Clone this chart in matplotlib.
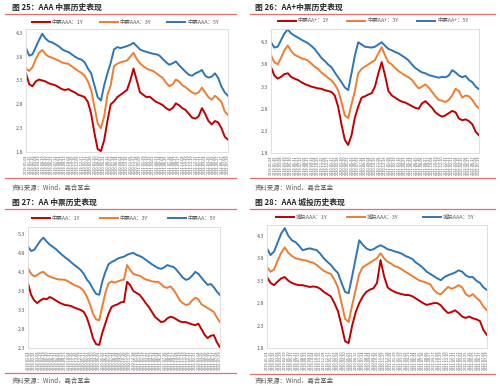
import matplotlib
matplotlib.use("Agg")
import matplotlib.pyplot as plt
from matplotlib.lines import Line2D
import pandas as pd

plt.rcParams['font.family'] = ['Noto Sans CJK SC']

# category axis: one point every three weeks
dates = pd.date_range('2019-01-04', periods=63, freq='21D')
date_labels = [d.strftime('%Y-%m-%d') for d in dates]

# 图25 AAA 中票
aaa_1y = [3.45, 3.22, 3.18, 3.28, 3.32, 3.30, 3.28, 3.24, 3.22, 3.20,
          3.16, 3.12, 3.10, 3.12, 3.08, 3.05, 3.00, 2.98, 2.95, 2.85,
          2.60, 2.20, 1.86, 1.82, 2.05, 2.45, 2.80, 2.86, 2.95, 3.00,
          3.05, 3.10, 3.30, 3.55, 3.30, 3.05, 3.00, 2.95, 2.96, 2.90,
          2.85, 2.82, 2.78, 2.72, 2.68, 2.72, 2.82, 2.78, 2.72, 2.68,
          2.60, 2.52, 2.50, 2.55, 2.72, 2.60, 2.45, 2.38, 2.45, 2.42,
          2.30, 2.12, 2.06]
aaa_3y = [3.55, 3.50, 3.58, 3.75, 3.88, 3.94, 3.85, 3.80, 3.78, 3.75,
          3.72, 3.68, 3.66, 3.65, 3.60, 3.55, 3.50, 3.46, 3.40, 3.28,
          3.10, 2.75, 2.40, 2.30, 2.55, 3.00, 3.20, 3.60, 3.65, 3.68,
          3.70, 3.72, 3.80, 3.88, 3.75, 3.66, 3.60, 3.55, 3.52, 3.50,
          3.45, 3.40, 3.35, 3.25, 3.18, 3.22, 3.32, 3.28, 3.20, 3.16,
          3.10, 3.05, 3.02, 3.05, 3.15, 3.05, 2.95, 2.90, 2.98, 2.92,
          2.85, 2.65, 2.58]
aaa_5y = [3.98, 3.82, 3.85, 4.00, 4.15, 4.28, 4.18, 4.12, 4.10, 4.06,
          4.02, 3.96, 3.92, 3.90, 3.85, 3.80, 3.76, 3.74, 3.68, 3.55,
          3.45, 3.20, 2.95, 2.88, 3.20, 3.45, 3.67, 3.95, 4.00, 3.98,
          4.00, 4.02, 4.05, 4.09, 4.02, 3.95, 3.92, 3.90, 3.88, 3.86,
          3.85, 3.82, 3.75, 3.68, 3.63, 3.66, 3.70, 3.62, 3.55, 3.48,
          3.42, 3.40, 3.45, 3.48, 3.52, 3.40, 3.36, 3.38, 3.45, 3.35,
          3.17, 3.05, 2.98]

# 图26 AA+ 中票
aap_1y = [3.74, 3.55, 3.48, 3.52, 3.58, 3.60, 3.52, 3.48, 3.45, 3.40,
          3.36, 3.33, 3.30, 3.28, 3.26, 3.25, 3.22, 3.20, 3.18, 3.10,
          2.85, 2.45, 2.10, 1.98, 2.20, 2.60, 2.85, 3.05, 3.08, 3.12,
          3.15, 3.30, 3.60, 3.85, 3.55, 3.20, 3.10, 3.05, 3.00, 2.96,
          2.94, 2.90, 2.86, 2.82, 2.80, 2.92, 2.97, 2.90, 2.82, 2.72,
          2.66, 2.62, 2.65, 2.70, 2.75, 2.72, 2.58, 2.54, 2.56, 2.52,
          2.45, 2.28, 2.20]
aap_3y = [4.00, 3.85, 3.80, 3.95, 4.12, 4.23, 4.10, 4.02, 3.98, 3.94,
          3.92, 3.89, 3.82, 3.75, 3.70, 3.62, 3.56, 3.50, 3.44, 3.35,
          3.22, 2.95, 2.65, 2.59, 2.90, 3.20, 3.60, 3.70, 3.75, 3.80,
          3.85, 3.90, 4.05, 4.19, 4.00, 3.85, 3.80, 3.72, 3.65, 3.60,
          3.55, 3.51, 3.45, 3.35, 3.26, 3.30, 3.35, 3.28, 3.18, 3.08,
          3.00, 2.98, 2.95, 3.00, 3.10, 3.25, 3.20, 3.05, 3.10, 3.08,
          3.00, 2.88, 2.81]
aap_5y = [4.30, 4.18, 4.20, 4.35, 4.50, 4.59, 4.50, 4.45, 4.41, 4.36,
          4.32, 4.28, 4.22, 4.15, 4.05, 3.95, 3.88, 3.80, 3.74, 3.62,
          3.51, 3.40, 3.28, 3.22, 3.60, 4.00, 4.30, 4.25, 4.20, 4.19,
          4.18, 4.20, 4.25, 4.30, 4.22, 4.15, 4.12, 4.08, 4.05, 4.00,
          3.95, 3.89, 3.80, 3.72, 3.67, 3.62, 3.60, 3.56, 3.54, 3.52,
          3.50, 3.52, 3.51, 3.55, 3.67, 3.62, 3.55, 3.51, 3.54, 3.45,
          3.40, 3.30, 3.24]

# 图27 AA 中票
aa_1y = [4.00, 3.70, 3.55, 3.48, 3.55, 3.60, 3.58, 3.64, 3.60, 3.55,
         3.50, 3.46, 3.43, 3.42, 3.40, 3.36, 3.33, 3.30, 3.25, 3.10,
         2.85, 2.55, 2.40, 2.38, 2.70, 2.95, 3.20, 3.38, 3.42, 3.45,
         3.50, 3.51, 4.04, 3.95, 3.80, 3.75, 3.70, 3.60, 3.48, 3.38,
         3.25, 3.12, 3.05, 2.98, 3.00, 3.08, 3.12, 3.10, 3.05, 3.00,
         2.98, 2.98, 2.95, 2.92, 2.90, 2.94, 2.80, 2.65, 2.56, 2.62,
         2.64, 2.45, 2.32]
aa_3y = [4.40, 4.25, 4.18, 4.22, 4.28, 4.30, 4.22, 4.18, 4.15, 4.12,
         4.10, 4.10, 4.09, 4.05, 4.00, 3.95, 3.92, 3.88, 3.80, 3.65,
         3.45, 3.20, 3.05, 3.03, 3.40, 3.75, 4.00, 4.05, 4.02, 4.05,
         4.08, 4.10, 4.48, 4.35, 4.25, 4.22, 4.20, 4.15, 4.10, 4.08,
         4.05, 4.04, 4.04, 3.98, 3.90, 3.88, 3.92, 3.83, 3.70, 3.55,
         3.48, 3.43, 3.45, 3.55, 3.62, 3.58, 3.45, 3.40, 3.35, 3.30,
         3.25, 3.10, 2.98]
aa_5y = [4.96, 4.85, 4.88, 5.00, 5.12, 5.20, 5.10, 5.02, 4.96, 4.90,
         4.82, 4.75, 4.68, 4.62, 4.55, 4.48, 4.42, 4.35, 4.25, 4.10,
         4.00, 3.85, 3.72, 3.70, 4.05, 4.30, 4.50, 4.56, 4.60, 4.65,
         4.68, 4.70, 4.75, 4.78, 4.80, 4.75, 4.72, 4.68, 4.62, 4.56,
         4.50, 4.45, 4.40, 4.38, 4.42, 4.48, 4.45, 4.43, 4.35, 4.25,
         4.15, 4.09, 4.12, 4.20, 4.30, 4.25, 4.15, 4.05, 3.96, 3.98,
         3.90, 3.78, 3.69]

# 图28 城投 AAA
ct_1y = [3.38, 3.25, 3.20, 3.28, 3.35, 3.38, 3.30, 3.25, 3.22, 3.20,
         3.20, 3.18, 3.16, 3.17, 3.16, 3.12, 3.05, 3.00, 2.95, 2.80,
         2.62, 2.30, 1.95, 1.91, 2.30, 2.60, 2.80, 2.95, 3.05, 3.10,
         3.13, 3.25, 3.76, 3.40, 3.15, 3.09, 3.05, 3.02, 3.00, 2.98,
         2.98, 2.95, 2.90, 2.85, 2.80, 2.76, 2.78, 2.80, 2.80, 2.75,
         2.65, 2.58, 2.60, 2.64, 2.58, 2.50, 2.47, 2.50, 2.46, 2.44,
         2.40, 2.20, 2.09]
ct_3y = [3.60, 3.50, 3.55, 3.75, 3.92, 4.04, 3.92, 3.85, 3.80, 3.78,
         3.76, 3.75, 3.72, 3.70, 3.65, 3.58, 3.52, 3.48, 3.45, 3.32,
         3.15, 2.80, 2.45, 2.38, 2.75, 3.10, 3.45, 3.60, 3.65, 3.70,
         3.75, 3.80, 3.91, 3.80, 3.72, 3.68, 3.62, 3.60, 3.55, 3.50,
         3.45, 3.40, 3.35, 3.30, 3.28, 3.25, 3.22, 3.10, 3.02, 3.00,
         3.08, 3.16, 3.12, 3.15, 3.20, 3.15, 3.00, 2.95, 3.00, 2.92,
         2.85, 2.72, 2.64]
ct_5y = [4.02, 3.87, 3.95, 4.15, 4.35, 4.47, 4.30, 4.20, 4.16, 4.08,
         3.98, 4.00, 4.02, 4.00, 3.98, 3.90, 3.80, 3.72, 3.65, 3.55,
         3.47, 3.25, 3.05, 3.02, 3.40, 3.80, 4.20, 4.10, 4.02, 3.98,
         4.00, 4.05, 4.09, 4.05, 4.00, 3.98, 3.95, 3.93, 3.90, 3.85,
         3.82, 3.78, 3.70, 3.65, 3.58, 3.50, 3.45, 3.40, 3.35, 3.31,
         3.38, 3.42, 3.45, 3.48, 3.53, 3.50, 3.42, 3.38, 3.38, 3.30,
         3.25, 3.15, 3.09]

red = '#C00000'
orange = '#ED7D31'
blue = '#2E75B6'
rule = '#E07070'
colors = [red, orange, blue]
small_txt = '#595959'

W, H = 500, 388
fig = plt.figure(figsize=(W / 100, H / 100), dpi=100)


def fx(x):
    return x / W


def fy(y):
    return 1 - y / H


def hline(x0, x1, y, color, lw):
    fig.add_artist(Line2D([fx(x0), fx(x1)], [fy(y), fy(y)], color=color, lw=lw))


def panel(box, series, names, ylim, yticks, title, tx, ty, rule_x, rule_y,
          src_y, foot_y, leg_x, leg_y):
    x0, y0, x1, y1 = box
    ax = fig.add_axes([fx(x0), fy(y1), (x1 - x0) / W, (y1 - y0) / H])
    for vals, c in zip(series, colors):
        ax.plot(range(len(vals)), vals, color=c, lw=1.4)
    ax.set_xlim(0, len(dates) - 1)
    ax.set_ylim(*ylim)
    ax.set_yticks(yticks)
    ax.set_yticklabels(['%.1f' % v for v in yticks], fontsize=3.8, color=small_txt)
    ax.set_xticks(range(len(dates)))
    ax.set_xticklabels(date_labels, rotation=90, fontsize=2.4, color=small_txt,
                       family='DejaVu Sans')
    ax.tick_params(length=0, pad=2)
    for s in ax.spines.values():
        s.set_color('#D9D9D9')
        s.set_linewidth(0.6)
    # legend drawn by hand, Excel style
    for lx, name, c in zip(leg_x, names, colors):
        hline(lx, lx + 18, leg_y, c, 1.4)
        fig.text(fx(lx + 20), fy(leg_y), name, fontsize=3.9, va='center',
                 color=small_txt, fontweight='light')
    fig.text(fx(tx), fy(ty), title, fontsize=5.6, fontweight='bold', va='center',
             color='#262626')
    hline(rule_x[0], rule_x[1], rule_y, rule, 0.9)
    hline(rule_x[0], rule_x[1], foot_y, rule, 0.9)
    fig.text(fx(tx), fy(src_y), '资料来源：Wind，嘉合基金', fontsize=4.6, va='center',
             color=small_txt, fontweight='light')
    return ax


panel((26, 29, 228, 152), [aaa_1y, aaa_3y, aaa_5y],
      ['中票AAA：1Y', '中票AAA：3Y', '中票AAA：5Y'],
      (1.8, 4.38), [1.8, 2.3, 2.8, 3.3, 3.8, 4.3],
      '图 25：AAA 中票历史表现', 12, 7, (5, 236), 14, 188, 178,
      [32, 100, 167], 22)

panel((271, 29, 479, 153), [aap_1y, aap_3y, aap_5y],
      ['中票AA+：1Y', '中票AA+：3Y', '中票AA+：5Y'],
      (1.8, 4.6), [1.8, 2.3, 2.8, 3.3, 3.8, 4.3],
      '图 26：AA+中票历史表现', 255, 7, (250, 495), 14, 188, 178,
      [278, 347, 417], 21)

panel((28, 227, 220, 348), [aa_1y, aa_3y, aa_5y],
      ['中票AA：1Y', '中票AA：3Y', '中票AA：5Y'],
      (2.3, 5.48), [2.3, 2.8, 3.3, 3.8, 4.3, 4.8, 5.3],
      '图 27：AA 中票历史表现', 12, 202, (5, 236), 209, 381, 373,
      [32, 100, 168], 218)

panel((267, 225, 487, 348), [ct_1y, ct_3y, ct_5y],
      ['城投AAA：1Y', '城投AAA：3Y', '城投AAA：5Y'],
      (1.8, 4.54), [1.8, 2.3, 2.8, 3.3, 3.8, 4.3],
      '图 28：AAA 城投历史表现', 255, 202, (250, 495), 209, 381, 374,
      [276, 347, 423], 217)

fig.savefig('out.png', dpi=100)
